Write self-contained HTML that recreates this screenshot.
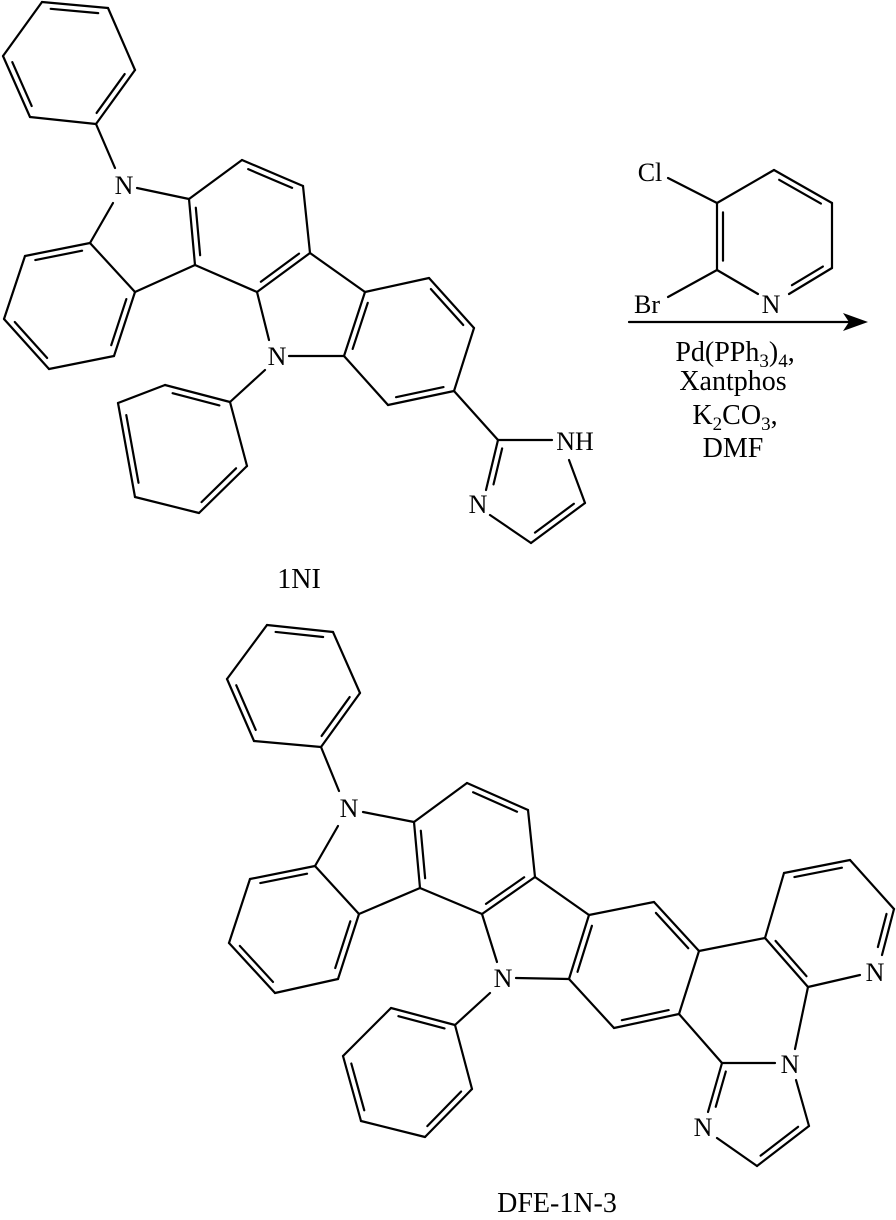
<!DOCTYPE html>
<html><head><meta charset="utf-8"><style>
html,body{margin:0;padding:0;background:#fff;}
svg{display:block;}
text{font-family:"Liberation Serif",serif;font-size:26px;fill:#000;}
.big{font-size:28px;}
</style></head><body>
<svg id="s" width="896" height="1220" viewBox="0 0 896 1220" xmlns="http://www.w3.org/2000/svg">
<g id="b" stroke="#000" stroke-width="2.2" stroke-linecap="round" fill="none"></g>
<polygon points="868,322 843,313 849,322 843,331" fill="#000"/>
<g text-anchor="middle">
<text x="124" y="194">N</text>
<text x="277" y="365">N</text>
<text x="575" y="450">NH</text>
<text x="478" y="513">N</text>
<text class="big" x="299" y="588">1NI</text>
<text x="650" y="181">Cl</text>
<text x="647" y="313">Br</text>
<text x="771" y="313">N</text>
<text class="big" x="735" y="361">Pd(PPh<tspan font-size="19" dy="6">3</tspan><tspan dy="-6">)</tspan><tspan font-size="19" dy="6">4</tspan><tspan dy="-6">,</tspan></text>
<text class="big" x="733" y="390">Xantphos</text>
<text class="big" x="735" y="424">K<tspan font-size="19" dy="6">2</tspan><tspan dy="-6">CO</tspan><tspan font-size="19" dy="6">3</tspan><tspan dy="-6">,</tspan></text>
<text class="big" x="733" y="457">DMF</text>
<text x="349" y="817">N</text>
<text x="503" y="987">N</text>
<text x="875" y="981">N</text>
<text x="790" y="1073">N</text>
<text x="703" y="1136">N</text>
<text class="big" x="557" y="1212">DFE-1N-3</text>
</g>
</svg>
<script>
var g=document.getElementById('b'),NS='http://www.w3.org/2000/svg';
function L(a,b,c,d){var l=document.createElementNS(NS,'line');l.setAttribute('x1',a);l.setAttribute('y1',b);l.setAttribute('x2',c);l.setAttribute('y2',d);g.appendChild(l);}
function inner(p,q,c){var dx=q[0]-p[0],dy=q[1]-p[1],len=Math.hypot(dx,dy);var nx=-dy/len,ny=dx/len;var mx=(p[0]+q[0])/2,my=(p[1]+q[1])/2;if((c[0]-mx)*nx+(c[1]-my)*ny<0){nx=-nx;ny=-ny;}var o=6,s=0.14;L(p[0]+dx*s+nx*o,p[1]+dy*s+ny*o,q[0]-dx*s+nx*o,q[1]-dy*s+ny*o);}
function ring(pts,dbl){var c=[0,0];pts.forEach(function(p){c[0]+=p[0]/pts.length;c[1]+=p[1]/pts.length;});for(var i=0;i<pts.length;i++){var p=pts[i],q=pts[(i+1)%pts.length];L(p[0],p[1],q[0],q[1]);if(dbl.indexOf(i)>=0)inner(p,q,c);}}
function S(p,q){L(p[0],p[1],q[0],q[1]);}
function D(p,q,c){S(p,q);inner(p,q,c);}
ring([[42,2],[108,8],[135,70],[96,124],[30,117],[3,56]],[0,2,4]);
S([96,124],[115,168]);S([137,188],[189,199]);S([113,203],[90,243]);
var A=[189,199],B=[242,160],C=[303,186],Dd=[310,253],E=[257,292],F=[195,265];
ring([A,B,C,Dd,E,F],[1,3,5]);
ring([[90,243],[25,256],[4,319],[49,369],[114,356],[135,292]],[0,2,4]);
S([135,292],F);S(E,[269,340]);S([289,356],[344,356]);
var G=[365,292],I=[429,278],J=[474,328],K=[454,391],Lq=[388,405],H=[344,356];
ring([G,I,J,K,Lq,H],[1,3,5]);S(Dd,G);
S([265,370],[230,402]);
ring([[230,402],[165,385],[118,403],[135,497],[199,513],[247,466]],[0,2,4]);
var ic=[533,487];
S(K,[498,440]);S([498,440],[552,440]);S([569,460],[585,503]);D([585,503],[531,543],ic);S([531,543],[490,515]);D([486,490],[498,440],ic);
var rc=[775,236];
S([668,178],[717,203]);S([717,203],[774,170]);D([774,170],[832,203],rc);S([832,203],[832,268]);D([832,268],[789,294],rc);S([758,294],[717,270]);D([717,270],[717,203],rc);S([717,270],[668,297]);
L(629,322,852,322);
ring([[267,625],[333,632],[360,693],[321,747],[254,741],[227,679]],[0,2,4]);
S([321,747],[339,791]);S([363,812],[414,822]);S([338,826],[315,866]);
var A2=[414,822],B2=[467,783],C2=[528,810],D2=[535,877],E2=[482,914],F2=[420,888];
ring([A2,B2,C2,D2,E2,F2],[1,3,5]);
ring([[315,866],[250,879],[229,943],[275,993],[338,979],[359,914]],[0,2,4]);
S([359,914],F2);S(E2,[497,962]);S([516,978],[569,979]);
var G2=[589,915],I2=[654,902],J2=[699,951],K2=[679,1014],L2=[614,1028],H2=[569,979];
ring([G2,I2,J2,K2,L2,H2],[1,3,5]);S(D2,G2);
S([490,993],[455,1025]);
ring([[455,1025],[391,1008],[343,1056],[361,1121],[425,1137],[472,1089]],[0,2,4]);
var pc=[829,923],P1=[765,938],P2=[784,873],P3=[850,860],P4=[894,909],P6=[808,987];
S(J2,P1);S(P1,P2);D(P2,P3,pc);S(P3,P4);D(P4,[882,955],pc);S([860,975],P6);D(P6,P1,pc);
var ic2=[757,1110],CC=[722,1063];
S(P6,[795,1049]);S(K2,CC);S(CC,[775,1063]);S([796,1080],[809,1126]);D([809,1126],[757,1166],ic2);S([757,1166],[717,1138]);D([708,1112],CC,ic2);
</script>
</body></html>
